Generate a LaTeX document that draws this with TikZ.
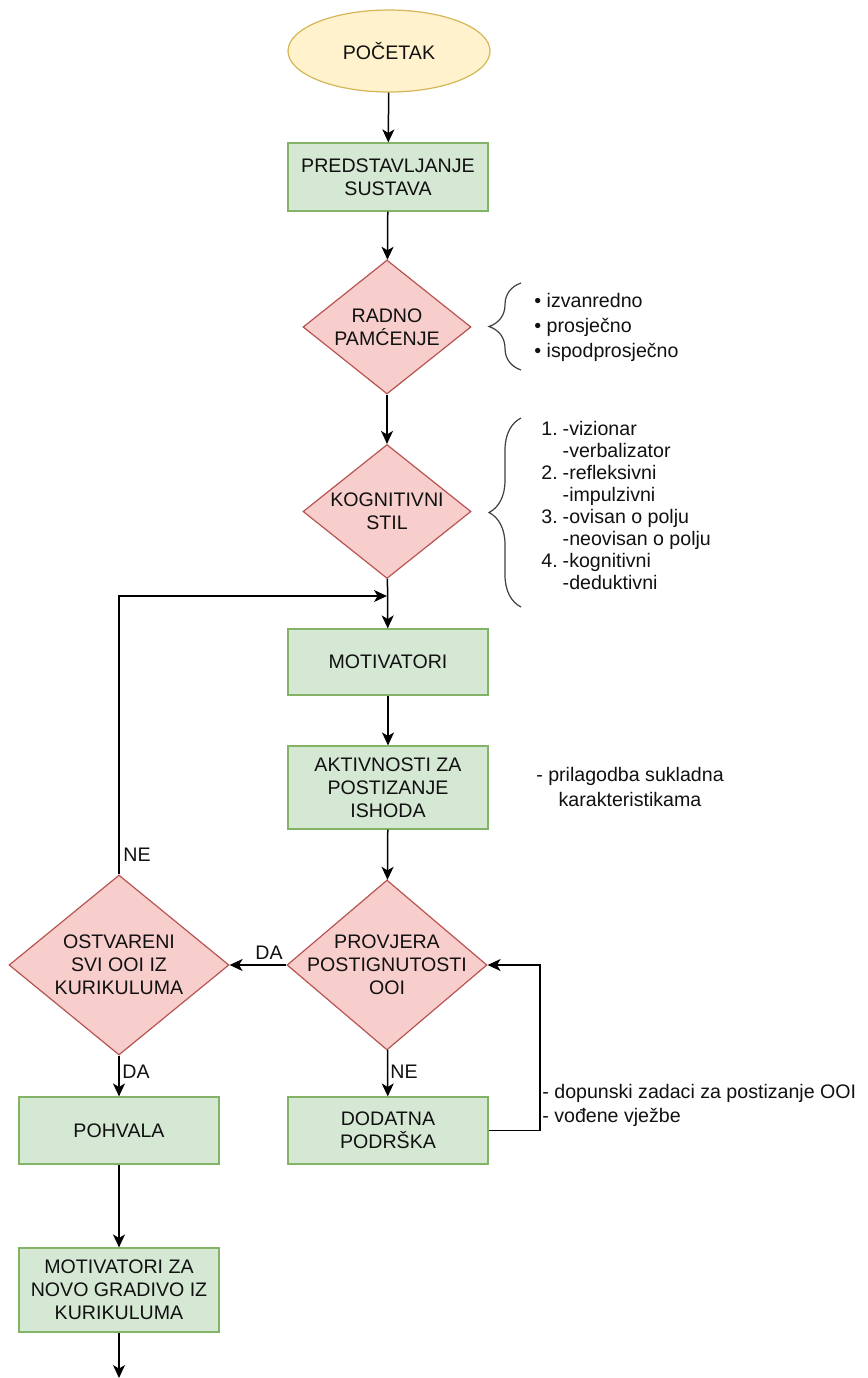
\documentclass[tikz,border=0pt]{standalone}
\usepackage{fontspec}
\setmainfont{Liberation Sans}
\usetikzlibrary{shapes.geometric,arrows.meta,decorations.pathreplacing}
\definecolor{yfill}{HTML}{FFF2CC}\definecolor{ydraw}{HTML}{D6B656}
\definecolor{gfill}{HTML}{D5E8D4}\definecolor{gdraw}{HTML}{82B366}
\definecolor{rfill}{HTML}{F8CECC}\definecolor{rdraw}{HTML}{B85450}
\definecolor{txt}{HTML}{111111}
\begin{document}
\begin{tikzpicture}[x=0.5pt,y=-0.5pt,
  every node/.style={font=\fontsize{9.8}{11.5}\selectfont, text=txt},
  term/.style={ellipse, draw=ydraw, fill=yfill, line width=0.6pt, minimum width=101pt, minimum height=41pt, inner sep=0pt},
  proc/.style={rectangle, draw=gdraw, fill=gfill, line width=0.6pt, minimum width=100pt, minimum height=34pt, align=center, inner sep=0pt},
  dec/.style={diamond, draw=rdraw, fill=rfill, line width=0.6pt, minimum width=84pt, minimum height=67pt, inner sep=0pt},
  lbl/.style={align=center, inner sep=0pt},
  arr/.style={line width=0.75pt, draw=black, -{Stealth[length=6.5pt,width=6pt,inset=1.8pt]}},
  brc/.style={decorate, decoration={brace, amplitude=16pt}, line width=0.6pt, draw=black!75},
  side/.style={inner sep=0pt, align=left},
]
\useasboundingbox[fill=white] (0,0) rectangle (868,1378);

% nodes
\node[term] (start) at (389,51) {POČETAK};
\node[proc] (pred) at (388,177) {PREDSTAVLJANJE\\SUSTAVA};
\node[dec] (rad) at (387,327) {};
\node[lbl] (radt) at (rad) {RADNO\\PAMĆENJE};
\node[dec] (kog) at (387,511.5) {};
\node[lbl] (kogt) at (kog) {KOGNITIVNI\\STIL};
\node[proc, minimum height=33pt] (mot) at (388,662) {MOTIVATORI};
\node[proc, minimum height=41.5pt] (akt) at (388,787.5) {AKTIVNOSTI ZA\\POSTIZANJE\\ISHODA};
\node[dec, minimum width=100pt, minimum height=85pt] (prov) at (387,965) {};
\node[lbl] (provt) at (prov) {PROVJERA\\POSTIGNUTOSTI\\OOI};
\node[dec, minimum width=110pt, minimum height=90pt] (ost) at (119,965) {};
\node[lbl] (ostt) at (ost) {OSTVARENI\\SVI OOI IZ\\KURIKULUMA};
\node[proc, minimum height=33.5pt] (dod) at (388,1130.5) {DODATNA\\PODRŠKA};
\node[proc, minimum height=33.5pt] (poh) at (119,1130.5) {POHVALA};
\node[proc, minimum height=42pt] (mnov) at (119,1290) {MOTIVATORI ZA\\NOVO GRADIVO IZ\\KURIKULUMA};

\coordinate (loopR) at (387,596);
\coordinate (rt) at (540,965);
\coordinate (rb) at (540,1130.5);
\coordinate (endp) at (119,1378);

% connectors
\draw[arr] (start) -- (pred);
\draw[arr] (pred) -- (rad);
\draw[arr] (rad) -- (kog);
\draw[arr] (kog) -- (mot);
\draw[arr] (ost.north) |- (loopR);
\draw[arr] (mot) -- (akt);
\draw[arr] (akt) -- (prov);
\draw[arr] (prov) -- (ost);
\draw[arr] (prov) -- (dod);
\draw[arr] (ost) -- (poh);
\draw[arr] (dod.east) -- (rb) -- (rt) -- (prov.east);
\draw[arr] (poh) -- (mnov);
\draw[arr] (mnov) -- (endp);

% labels
\node[inner sep=0pt, anchor=west] (ne1) at (123,855) {NE};
\node[inner sep=0pt] (da1) at (269,953) {DA};
\node[inner sep=0pt, anchor=west] (da2) at (122,1072) {DA};
\node[inner sep=0pt, anchor=west] (ne2) at (390,1072) {NE};

% braces
\draw[brc] (521,370) -- (521,283);
\draw[brc] (521,607) -- (521,418);

% side texts
\node[side, anchor=west, font=\fontsize{9.8}{12.5}\selectfont] (mem) at (534,327) {• izvanredno\\• prosječno\\• ispodprosječno};
\node[side, anchor=west, font=\fontsize{9.8}{11}\selectfont] (sty) at (541,508) {\begin{tabular}{@{}r@{\hspace{2.5pt}}l@{}}
1. & -vizionar\\
   & -verbalizator\\
2. & -refleksivni\\
   & -impulzivni\\
3. & -ovisan o polju\\
   & -neovisan o polju\\
4. & -kognitivni\\
   & -deduktivni
\end{tabular}};
\node[inner sep=0pt, align=center, font=\fontsize{9.8}{12.5}\selectfont] (adp) at (630,787) {- prilagodba sukladna\\karakteristikama};
\node[side, anchor=west, font=\fontsize{9.8}{12}\selectfont] (dop) at (542,1105) {- dopunski zadaci za postizanje OOI\\- vođene vježbe};
\end{tikzpicture}
\end{document}
